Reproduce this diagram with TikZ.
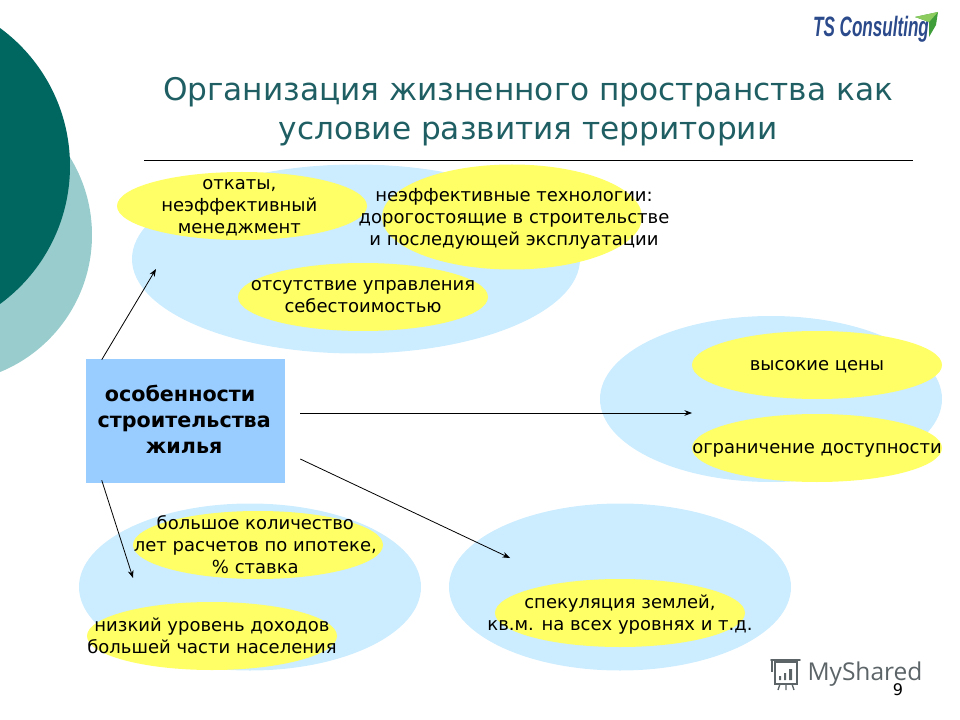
\documentclass[tikz,border=0pt]{standalone}
\usepackage{fontspec}
\setmainfont{DejaVu Sans}
\newfontfamily\logofont{Liberation Sans}
\newfontfamily\markfont{Open Sans}
\usepackage{xcolor}
\usetikzlibrary{arrows.meta, positioning, calc, shapes.geometric}
\definecolor{deepteal}{HTML}{006660}
\definecolor{paleteal}{HTML}{99CCCC}
\definecolor{titleteal}{HTML}{1F5F63}
\definecolor{paleblue}{HTML}{CCECFF}
\definecolor{boxblue}{HTML}{99CCFF}
\definecolor{lemon}{HTML}{FFFF66}
\definecolor{logoblue}{HTML}{2B4A8B}
\definecolor{leafgreen}{HTML}{3F9E3A}
\definecolor{leaflight}{HTML}{8CCB5E}
\definecolor{markgrey}{HTML}{5C6468}
\tikzset{
    slide/.style={x=0.75pt, y=-0.75pt, >=Stealth},
    cloud/.style={ellipse, fill=paleblue, inner sep=0pt},
    spot/.style={ellipse, fill=lemon, inner sep=0pt, minimum width=187.5pt, minimum height=51pt},
    words/.style={align=center, inner sep=0pt, font=\fontsize{13.5}{16.5}\selectfont},
    headline/.style={font=\fontsize{23.4}{29}\selectfont, text=titleteal, align=center},
    feature/.style={fill=boxblue, minimum width=149.25pt, minimum height=93pt},
    featurewords/.style={align=center, inner sep=0pt, font=\fontsize{15.5}{19.5}\selectfont\bfseries},
    link/.style={->, line width=0.6pt},
}

\begin{document}
\begin{tikzpicture}[slide]
    \useasboundingbox (0,0) rectangle (960,720);

    % left side circles
    \fill[paleteal] (-56,235) circle[radius=111pt];
    \fill[deepteal] (-101,166) circle[radius=128.25pt];

    \node[headline] (title) at (528,112) {Организация жизненного пространства как\\условие развития территории};
    \coordinate (ruleL) at (144,160);
    \coordinate (ruleR) at (913,160);
    \draw[line width=0.6pt] (ruleL) -- (ruleR);

    % clouds
    \node[cloud, minimum width=336pt, minimum height=141.75pt] (cloudA) at (356,259) {};
    \node[cloud, minimum width=256.5pt, minimum height=124.5pt] (cloudB) at (771,399) {};
    \node[cloud, minimum width=256.5pt, minimum height=125.25pt] (cloudC) at (250,587) {};
    \node[cloud, minimum width=256.5pt, minimum height=125.25pt] (cloudD) at (620,587) {};

    % top group
    \node[spot, label={[words, xshift=-2pt, yshift=-1pt]center:откаты,\\неэффективный\\менеджмент}] (kick) at (242,206) {};
    \node[spot, minimum width=195pt, minimum height=78.75pt, label={[words, xshift=1.5pt, yshift=-1pt]center:неэффективные технологии:\\дорогостоящие в строительстве\\и последующей эксплуатации}] (tech) at (512,217) {};
    \node[spot, label={[words]center:отсутствие управления\\себестоимостью}] (cost) at (363,297) {};

    % right group
    \node[spot, label={[words, yshift=-1pt]center:высокие цены}] (price) at (817,365) {};
    \node[spot, label={[words, yshift=-1.5pt]center:ограничение доступности}] (access) at (817,448) {};

    % lower groups
    \node[spot, label={[words, xshift=-2pt]center:большое количество\\лет расчетов по ипотеке,\\\% ставка}] (loan) at (258,545) {};
    \node[spot, label={[words]center:низкий уровень доходов\\большей части населения}] (income) at (212,636) {};
    \node[spot, label={[words, yshift=-1pt]center:спекуляция землей,\\кв.м. на всех уровнях и т.д.}] (land) at (620,613) {};

    \node[feature, label={[featurewords, xshift=-1pt, yshift=1.5pt]center:особенности\hspace*{6pt}\\строительства\hspace*{6pt}\\жилья}] (feat) at (185.5,421) {};

    \coordinate (endA) at (156,269);
    \coordinate (endB) at (692,413);
    \coordinate (endD) at (510,558);
    \coordinate (endC) at (133,578);
    \draw[link] ($(feat.north west)+(16,1)$) -- (endA);
    \draw[link] ($(feat.east)+(15,-8)$) -- (endB);
    \draw[link] ($(feat.east)+(15,38)$) -- (endD);
    \draw[link] ($(feat.south west)+(16,-3)$) -- (endC);

    % logo
    \node[font=\logofont\bfseries\itshape\fontsize{21}{21}\selectfont, text=logoblue] (logo) at (871,29) {\scalebox{0.61}[1]{TS Consulting}};
    \fill[leafgreen] (915,17) -- (938,12) -- (936,25) -- (929,37) -- (929,22) -- cycle;
    \fill[leaflight] (915,17) -- (938,12) -- (929,22) -- cycle;

    % watermark
    \node[font=\markfont\fontsize{18.4}{18.4}\selectfont, text=markgrey] (mark) at (865,674) {MyShared};
    \draw[markgrey, line width=1pt] (775,662) rectangle (797,684);
    \draw[markgrey, line width=1.4pt, line cap=round] (771,660) -- (800,660);
    \draw[markgrey, line width=1pt] (772,660) -- (772,672);
    \draw[markgrey, line width=1pt] (780,684) -- (778,690) (786,684) -- (786,690) (792,684) -- (794,690);
    \fill[markgrey] (779,676) rectangle (781,680) (784,673) rectangle (786,680) (789,669) rectangle (792,680);
    \node[font=\fontsize{12}{12}\selectfont] (page) at (898,690) {9};
\end{tikzpicture}
\end{document}
